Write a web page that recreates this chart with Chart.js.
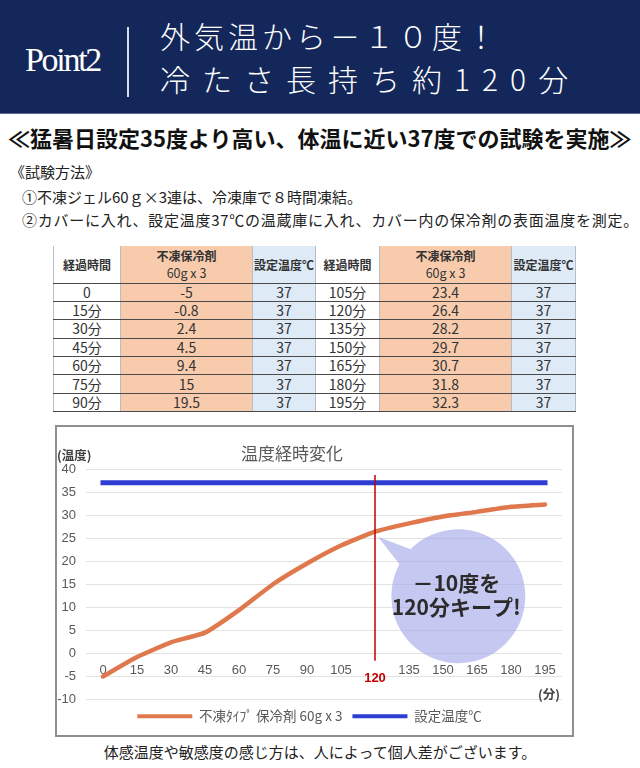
<!DOCTYPE html>
<html lang="ja">
<head>
<meta charset="utf-8">
<title>温度経時変化</title>
<script src="https://cdn.jsdelivr.net/npm/chart.js@4.4.1/dist/chart.umd.min.js"></script>
<style>
  * { box-sizing: border-box; }
  html, body { margin: 0; padding: 0; background: #fff; }
  body {
    width: 640px; height: 768px; position: relative; overflow: hidden;
    font-family: "Noto Sans CJK JP", "Noto Sans", sans-serif; color: #222;
  }
  .band {
    position: absolute; left: 0; top: 0; width: 640px; height: 114px;
    background: #14275a; border-bottom: 1px solid #5b6785;
  }
  .point {
    position: absolute; left: 25px; top: 43px; line-height: 1;
    font-family: "Liberation Serif", "DejaVu Serif", serif;
    font-size: 34px; letter-spacing: -2.3px; color: #fff;
  }
  .sep { position: absolute; left: 127px; top: 27px; width: 2px; height: 70px; background: #d8dbe4; }
  .head {
    position: absolute; left: 160px; color: #fff; font-size: 30px;
    line-height: 40px; white-space: nowrap; font-weight: 300;
  }
  .head.l1 { top: 15px; letter-spacing: 4px; }
  .head.l2 { top: 58px; letter-spacing: 12px; }
  .sub {
    position: absolute; left: 8px; top: 124px; font-size: 22px; font-weight: 700;
    line-height: 26px; white-space: nowrap; color: #111;
  }
  .method { position: absolute; font-size: 15px; line-height: 20px; white-space: nowrap; color: #222; }
  table.data {
    position: absolute; left: 53px; top: 246px; width: 522px;
    border-collapse: collapse; table-layout: fixed;
    font-size: 14px; color: #333;
  }
  table.data td, table.data th {
    border-left: 1px solid #b8bcc4; border-right: 1px solid #b8bcc4;
    border-bottom: 1px solid #4a4a4a; text-align: center; padding: 0;
    height: 18.4px; line-height: 17px;
  }
  table.data th { height: 37px; font-weight: 700; font-size: 12px; line-height: 17px; }
  table.data th .sm { font-weight: 400; font-size: 12.5px; }
  .c-time { background: #fff; }
  .c-gel { background: #f8cbad; }
  .c-set { background: #deebf7; }
  .frame {
    position: absolute; left: 55px; top: 425px; width: 519px; height: 312px;
    border: 2px solid #8f8f8f; background: #fff;
  }
  .frame canvas { display: block; }
  .note {
    position: absolute; left: 0; width: 640px; top: 742px; text-align: center;
    font-size: 15px; line-height: 20px; color: #222; white-space: nowrap;
  }
</style>
</head>
<body>
<div class="band">
  <div class="point">Point2</div>
  <div class="sep"></div>
  <div class="head l1">外気温から－１０度！</div>
  <div class="head l2">冷たさ長持ち約120分</div>
</div>
<div class="sub">≪猛暑日設定35度より高い、体温に近い37度での試験を実施≫</div>
<div class="method" style="left:10px; top:162px;">《試験方法》</div>
<div class="method" style="left:22px; top:187px;">①不凍ジェル60ｇ×3連は、冷凍庫で８時間凍結。</div>
<div class="method" style="left:22px; top:210px; letter-spacing:0.75px;">②カバーに入れ、設定温度37℃の温蔵庫に入れ、カバー内の保冷剤の表面温度を測定。</div>

<table class="data" id="dataTable"></table>

<div class="frame">
  <canvas id="tempChart" width="515" height="308"></canvas>
</div>

<div class="note">体感温度や敏感度の感じ方は、人によって個人差がございます。</div>

<script>
// elapsed minutes (x categories)
const xTickLabels = ['0', '15', '30', '45', '60', '75', '90', '105', '120', '135', '150', '165', '180', '195'];
// surface temperature of the gel pack 60g x 3
const gelTemps = [-5, -0.8, 2.4, 4.5, 9.4, 15, 19.5, 23.4, 26.4, 28.2, 29.7, 30.7, 31.8, 32.3];
// set temperature of the warming cabinet
const setTemps = [37, 37, 37, 37, 37, 37, 37, 37, 37, 37, 37, 37, 37, 37];
const yMin = -10;
const yMax = 40;
const yStep = 5;
const markLabel = '120';

const gelName = '不凍ﾀｲﾌﾟ 保冷剤 60g x 3';
const setName = '設定温度℃';
const orange = '#e0784d';
const blue = '#2e3dd2';

// --- table ---
function buildTable() {
    const table = document.getElementById('dataTable');
    const cols = [67, 132, 63, 64, 132, 64];
    let html = '<colgroup>' + cols.map(w => `<col style="width:${w}px">`).join('') + '</colgroup>';
    const headCells = `<th class="c-time">経過時間</th>
        <th class="c-gel">不凍保冷剤<br><span class="sm">60g x 3</span></th>
        <th class="c-set">設定温度℃</th>`;
    html += `<tr>${headCells}${headCells}</tr>`;
    const half = Math.ceil(xTickLabels.length / 2);
    const timeText = (i) => i === 0 ? xTickLabels[i] : `${xTickLabels[i]}分`;
    for (let r = 0; r < half; r++) {
        html += '<tr>';
        [r, r + half].forEach(i => {
            html += `<td class="c-time">${timeText(i)}</td>
                <td class="c-gel">${gelTemps[i]}</td>
                <td class="c-set">${setTemps[i]}</td>`;
        });
        html += '</tr>';
    }
    table.innerHTML = html;
}
buildTable();

// --- chart ---
const labelFont = '"Liberation Sans", "Noto Sans CJK JP", sans-serif';
const jpFont = '"Noto Sans CJK JP", "Liberation Sans", sans-serif';

const overlayPlugin = {
    id: 'overlay',
    afterDatasetsDraw(chart) {
        const { ctx, scales: { x, y } } = chart;
        const idx = xTickLabels.indexOf(markLabel);
        const mx = x.getPixelForValue(idx);

        ctx.save();
        // red marker line at 120 min
        ctx.strokeStyle = '#c00000';
        ctx.lineWidth = 1.5;
        ctx.beginPath();
        ctx.moveTo(mx, y.getPixelForValue(38.7));
        ctx.lineTo(mx, y.getPixelForValue(-1.6));
        ctx.stroke();

        ctx.fillStyle = '#c00000';
        ctx.font = `bold 13px ${labelFont}`;
        ctx.textAlign = 'center';
        ctx.textBaseline = 'middle';
        ctx.fillText(markLabel, mx, y.getPixelForValue(0) + 25);

        // speech bubble
        const cx = x.getPixelForValue(10.45);
        const cy = y.getPixelForValue(12.4);
        const r = 67;
        const tipX = mx + 3;
        const tipY = y.getPixelForValue(gelTemps[idx]) + 5;
        const dir = Math.atan2(tipY - cy, tipX - cx);
        const spread = 8 * Math.PI / 180;
        ctx.beginPath();
        ctx.moveTo(tipX, tipY);
        ctx.arc(cx, cy, r, dir + spread, dir - spread + Math.PI * 2);
        ctx.closePath();
        ctx.fillStyle = 'rgba(158, 163, 232, 0.6)';
        ctx.fill();

        ctx.fillStyle = '#2b2b2b';
        ctx.font = `bold 21px ${jpFont}`;
        ctx.fillText('－10度を', cx - 2, cy - 13);
        ctx.fillText('120分キープ!', cx - 2, cy + 11);
        ctx.restore();
    },
    afterDraw(chart) {
        const { ctx, chartArea } = chart;
        ctx.save();
        ctx.textBaseline = 'middle';
        ctx.fillStyle = '#595959';
        ctx.font = `17px ${jpFont}`;
        ctx.textAlign = 'center';
        ctx.fillText('温度経時変化', 235, 27);

        ctx.fillStyle = '#404040';
        ctx.font = `bold 12.5px ${jpFont}`;
        ctx.textAlign = 'left';
        ctx.fillText('(温度)', 0, 28);

        ctx.textAlign = 'right';
        ctx.fillText('(分)', chartArea.right - 2, chartArea.bottom - 5);
        ctx.restore();
    }
};

new Chart(document.getElementById('tempChart'), {
    type: 'line',
    data: {
        labels: xTickLabels,
        datasets: [
            {
                label: gelName,
                data: gelTemps,
                borderColor: orange,
                backgroundColor: orange,
                borderWidth: 4.5,
                borderCapStyle: 'round',
                pointRadius: 0,
                tension: 0.15
            },
            {
                label: setName,
                data: setTemps,
                borderColor: blue,
                backgroundColor: blue,
                borderWidth: 5,
                borderCapStyle: 'square',
                pointRadius: 0
            }
        ]
    },
    options: {
        responsive: false,
        animation: false,
        layout: { padding: { top: 42, right: 10, bottom: 2, left: 0 } },
        plugins: {
            title: { display: false },
            tooltip: { enabled: false },
            legend: {
                position: 'bottom',
                labels: {
                    boxWidth: 55,
                    boxHeight: 4,
                    padding: 10,
                    color: '#595959',
                    font: { family: jpFont, size: 13.5 },
                    generateLabels: (chart) =>
                        Chart.defaults.plugins.legend.labels.generateLabels(chart)
                            .map(item => ({ ...item, lineWidth: 0, fillStyle: item.strokeStyle }))
                }
            }
        },
        scales: {
            x: {
                type: 'category',
                offset: true,
                position: { y: 0 },
                grid: { display: false, drawTicks: false },
                border: { display: false },
                ticks: {
                    color: '#595959',
                    font: { family: labelFont, size: 13 },
                    padding: 9,
                    maxRotation: 0,
                    autoSkip: false,
                    callback: (value, index) => xTickLabels[index] === markLabel ? '' : xTickLabels[index]
                }
            },
            y: {
                min: yMin,
                max: yMax,
                grid: { color: '#e3e3e3', lineWidth: 1, drawTicks: false },
                border: { display: false },
                ticks: {
                    stepSize: yStep,
                    color: '#595959',
                    font: { family: labelFont, size: 13 },
                    padding: 10
                },
                afterFit: (scale) => { scale.width = 29; }
            }
        }
    },
    plugins: [overlayPlugin]
});
</script>
</body>
</html>
